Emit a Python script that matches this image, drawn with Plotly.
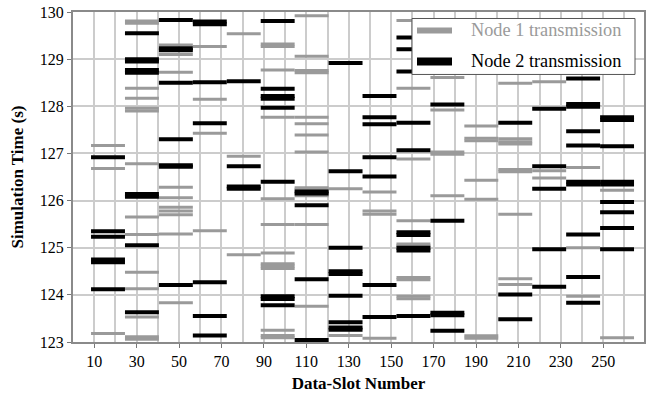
import plotly.graph_objects as go

# First data slot of each 16-slot frame (x-axis: Data-Slot Number)
frame_first_slot = [9, 25, 41, 57, 73, 89, 105, 121, 137, 153, 169, 185, 201, 217, 233, 249]
slots_per_frame = 16

x_tick_labels = [10, 30, 50, 70, 90, 110, 130, 150, 170, 190, 210, 230, 250]
y_tick_labels = [123, 124, 125, 126, 127, 128, 129, 130]

series_names = ["Node 1 transmission", "Node 2 transmission"]

# Simulation times (s) of transmissions in each frame
node1_times = [
    [127.17, 126.68, 123.18],
    [129.81, 129.76, 128.38, 128.17, 127.96, 127.90, 126.78, 125.65, 125.28, 124.48, 124.13, 123.53, 123.11, 123.06],
    [129.30, 129.10, 128.72, 126.28, 126.06, 125.86, 125.78, 125.70, 125.29, 123.83],
    [129.27, 128.15, 127.43, 125.36],
    [129.54, 126.94, 124.85],
    [129.32, 129.27, 128.77, 127.77, 126.04, 125.49, 124.89, 124.66, 124.61, 124.56, 123.25, 123.14, 123.09],
    [129.92, 129.06, 128.76, 128.71, 127.77, 127.63, 127.39, 127.03, 126.27, 126.24, 126.10, 125.49, 123.76],
    [126.25, 123.14],
    [126.18, 125.78, 125.71, 123.08],
    [129.82, 128.38, 126.88, 125.57, 125.08, 125.04, 124.37, 124.32, 123.97, 123.92],
    [128.61, 127.92, 127.03, 126.98, 126.10],
    [127.58, 127.32, 127.27, 126.43, 126.03, 123.13, 123.08],
    [128.49, 127.31, 127.25, 127.20, 126.66, 126.61, 125.71, 124.34, 124.22],
    [128.52, 126.63, 126.48],
    [126.70, 125.00, 123.97],
    [126.22, 123.09],
]

node2_times = [
    [126.92, 125.35, 125.23, 124.75, 124.69, 124.12],
    [129.55, 129.00, 128.95, 128.77, 128.71, 126.14, 126.08, 125.05, 123.63],
    [129.83, 129.23, 129.19, 128.50, 127.30, 126.75, 126.72, 124.21],
    [129.80, 129.74, 128.51, 127.64, 124.27, 123.55, 123.14],
    [128.53, 126.73, 126.30, 126.25],
    [129.81, 128.37, 128.22, 128.16, 127.97, 126.40, 123.97, 123.91, 123.78],
    [126.19, 126.15, 125.90, 124.33, 123.04],
    [128.92, 126.62, 125.00, 124.50, 124.44, 123.98, 123.42, 123.31, 123.26],
    [128.22, 127.77, 127.62, 126.92, 126.51, 124.21, 123.53],
    [129.46, 129.21, 128.74, 127.65, 127.07, 125.33, 125.27, 125.00, 124.94, 123.55],
    [128.04, 125.57, 123.62, 123.57, 123.24],
    [],
    [127.65, 124.01, 123.48],
    [127.95, 126.73, 126.25, 124.97, 124.17],
    [128.59, 128.05, 127.99, 127.47, 127.17, 126.40, 126.34, 125.28, 124.38, 123.83],
    [127.77, 127.71, 127.15, 126.40, 126.34, 125.97, 125.75, 125.42, 124.97],
]

GRAY = "#9a9a9a"
SERIF = "Liberation Serif, Times New Roman, serif"

# plot-area geometry in pixels (used only to place the legend box)
W, H = 651, 395
M_L, M_R, M_T, M_B = 73, 7, 11.5, 53.3
PW, PH = W - M_L - M_R, H - M_T - M_B


def px_to_paper(px, py):
    return (px - M_L) / PW, 1 - (py - M_T) / PH


def segments(times_per_frame):
    xs, ys = [], []
    for first, times in zip(frame_first_slot, times_per_frame):
        x0 = first - 0.5
        x1 = first + slots_per_frame - 0.5
        for t in times:
            xs += [x0, x1, None]
            ys += [t, t, None]
    return xs, ys


fig = go.Figure()

x1s, y1s = segments(node1_times)
x2s, y2s = segments(node2_times)

fig.add_trace(go.Scatter(x=x1s, y=y1s, mode="lines", line=dict(color=GRAY, width=3),
                         name=series_names[0], showlegend=False, hoverinfo="skip"))
fig.add_trace(go.Scatter(x=x2s, y=y2s, mode="lines", line=dict(color="black", width=4),
                         name=series_names[1], showlegend=False, hoverinfo="skip"))

axis_common = dict(
    showline=True, linecolor="#8a8a8a", linewidth=2, mirror=True,
    ticks="outside", ticklen=4, tickcolor="#777777",
    showgrid=True, gridcolor="#cccccc", gridwidth=1.5,
    zeroline=False,
    tickfont=dict(family=SERIF, size=16, color="black"),
)

fig.update_xaxes(
    range=[0, 269.2],
    tickvals=x_tick_labels,
    minor=dict(tickvals=[v + 10 for v in x_tick_labels], showgrid=True,
               gridcolor="#cccccc", gridwidth=1.5, ticks=""),
    title=dict(text="<b>Data-Slot Number</b>", font=dict(family=SERIF, size=17, color="black"),
               standoff=8),
    **axis_common,
)
fig.update_yaxes(
    range=[123, 130],
    tickvals=y_tick_labels,
    title=dict(text="<b>Simulation Time (s)</b>", font=dict(family=SERIF, size=17, color="black"),
               standoff=12),
    **axis_common,
)

# legend box drawn in paper coordinates
bx0, by0 = px_to_paper(412, 18)
bx1, by1 = px_to_paper(635, 74)
fig.add_shape(type="rect", xref="paper", yref="paper", x0=bx0, y0=by1, x1=bx1, y1=by0,
              fillcolor="white", line=dict(color="#555555", width=1), layer="above")

legend_rows = [(30, GRAY, 6, series_names[0], GRAY), (61, "black", 8, series_names[1], "black")]
for row_py, lcolor, lw, label, tcolor in legend_rows:
    sx0, sy = px_to_paper(417, row_py)
    sx1, _ = px_to_paper(452, row_py)
    fig.add_shape(type="line", xref="paper", yref="paper", x0=sx0, x1=sx1, y0=sy, y1=sy,
                  line=dict(color=lcolor, width=lw), layer="above")
    tx, ty = px_to_paper(469, row_py)
    fig.add_annotation(xref="paper", yref="paper", x=tx, y=ty, xanchor="left", yanchor="middle",
                       text=label, showarrow=False,
                       font=dict(family=SERIF, size=18.3, color=tcolor))

fig.update_layout(
    width=W, height=H,
    font=dict(family=SERIF, color="black"),
    margin=dict(l=M_L, r=M_R, t=M_T, b=M_B, autoexpand=False),
    plot_bgcolor="white", paper_bgcolor="white",
    showlegend=False,
)

fig.write_html("out.html", config={"displayModeBar": False},
               post_script="document.body.style.margin='0';")
